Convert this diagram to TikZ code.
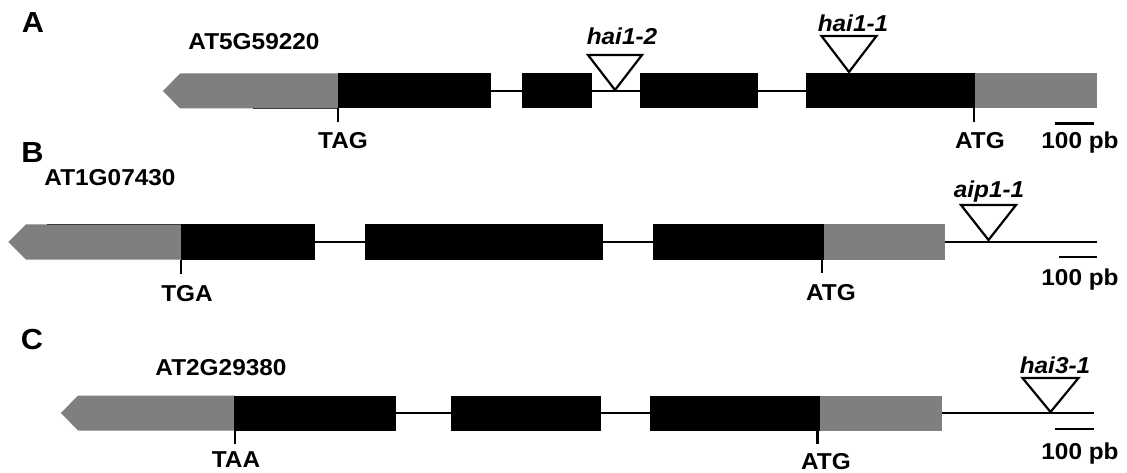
\documentclass[tikz,border=0pt]{standalone}
\usepackage{fontspec}
\setmainfont{Liberation Sans}[FakeStretch=1.06]
\definecolor{utrgray}{HTML}{7F7F7F}
\definecolor{edgegray}{HTML}{3A3A3A}
\tikzset{
  exon/.style={fill=black, draw=none, inner sep=0pt, outer sep=0pt, minimum height=35pt, anchor=west},
  utr/.style={fill=utrgray, draw=none, inner sep=0pt, outer sep=0pt, minimum height=35pt, anchor=west},
  intron/.style={draw=black, line width=2pt},
  flank/.style={draw=black, line width=2.6pt},
  codon/.style={draw=black, line width=2.2pt},
  sbar/.style={draw=black, line width=2.8pt},
  insert/.style={draw=black, fill=white, line width=2.2pt, line join=miter},
  seam/.style={draw=edgegray, line width=1.2pt},
  txt/.style={font=\fontsize{23}{26}\selectfont\bfseries, inner sep=0pt, anchor=base},
  mut/.style={font=\fontsize{23}{26}\selectfont\bfseries\itshape, inner sep=0pt, anchor=base},
  panel/.style={font=\fontsize{29}{32}\selectfont\bfseries, inner sep=0pt, anchor=base},
}
\begin{document}
\begin{tikzpicture}[x=1pt,y=-1pt]
\useasboundingbox (0,0) rectangle (1127,473);

% ---------------- Panel A ----------------
\node[panel] (pA) at (33,33) {A};
\node[txt] (gA) at (254,50) {AT5G59220};
\fill[utrgray] (163,91) -- (180,73.5) -- (338,73.5) -- (338,108.5) -- (180,108.5) -- cycle;
\draw[seam] (253,108.5) -- (337,108.5);
\node[exon, minimum width=153.3pt] (a1) at (337.7,91) {};
\node[exon, minimum width=70pt] (a2) at (522,91) {};
\node[exon, minimum width=118.5pt] (a3) at (639.5,91) {};
\node[exon, minimum width=169pt] (a4) at (805.7,91) {};
\node[utr, minimum width=122.3pt] (a5) at (974.7,91) {};
\draw[intron] (a1.east) -- (a2.west);
\draw[intron] (a2.east) -- (a3.west);
\draw[intron] (a3.east) -- (a4.west);
\draw[codon] (a1.south west) -- ++(0,14);
\draw[codon] ([xshift=-1pt]a4.south east) -- ++(0,14);
\node[txt] (tagA) at (343,148.5) {TAG};
\node[txt] (atgA) at (980,148.5) {ATG};
\node[txt] (sA) at (1080,148.5) {100 pb};
\draw[sbar] (1055,123.3) -- (1094,123.3);
\coordinate (iA2) at (615,90);
\draw[insert] (iA2) -- ++(-27,-35) -- ++(54,0) -- cycle;
\node[mut] (mA2) at (622,45) {hai1-2};
\coordinate (iA1) at (849,72);
\draw[insert] (iA1) -- ++(-27.5,-36) -- ++(55,0) -- cycle;
\node[mut] (mA1) at (853,31.5) {hai1-1};

% ---------------- Panel B ----------------
\node[panel] (pB) at (32.5,163) {B};
\node[txt] (gB) at (110,186) {AT1G07430};
\fill[utrgray] (8.3,242) -- (26,224.5) -- (181.5,224.5) -- (181.5,259.5) -- (26,259.5) -- cycle;
\draw[seam] (46.7,224.5) -- (181,224.5);
\node[exon, minimum width=134pt] (b1) at (181,242) {};
\node[exon, minimum width=238.4pt] (b2) at (365,242) {};
\node[exon, minimum width=170.3pt] (b3) at (653.2,242) {};
\node[utr, minimum width=121.8pt] (b4) at (823.5,242) {};
\coordinate (bend) at (1097,242);
\draw[intron] (b1.east) -- (b2.west);
\draw[intron] (b2.east) -- (b3.west);
\draw[flank] (b4.east) -- (bend);
\draw[codon] (b1.south west) -- ++(0,14);
\draw[codon] ([xshift=-1.5pt]b3.south east) -- ++(0,13);
\node[txt] (tgaB) at (187,301) {TGA};
\node[txt] (atgB) at (831,300) {ATG};
\node[txt] (sB) at (1080,285.5) {100 pb};
\draw[sbar] (1058.5,257) -- (1097,257);
\coordinate (iB1) at (988.5,240);
\draw[insert] (iB1) -- ++(-27.5,-35) -- ++(55,0) -- cycle;
\node[mut] (mB1) at (989,197.5) {aip1-1};

% ---------------- Panel C ----------------
\node[panel] (pC) at (32,349) {C};
\node[txt] (gC) at (221,375) {AT2G29380};
\fill[utrgray] (61,413) -- (78,395.5) -- (234.8,395.5) -- (234.8,430.5) -- (78,430.5) -- cycle;
\node[exon, minimum width=161.7pt] (c1) at (234.3,413) {};
\node[exon, minimum width=149.8pt] (c2) at (450.7,413) {};
\node[exon, minimum width=170.1pt] (c3) at (650.3,413) {};
\node[utr, minimum width=121.6pt] (c4) at (820.4,413) {};
\coordinate (cend) at (1094,413);
\draw[intron] (c1.east) -- (c2.west);
\draw[intron] (c2.east) -- (c3.west);
\draw[flank] (c4.east) -- (cend);
\draw[codon] ([xshift=1pt]c1.south west) -- ++(0,13.5);
\draw[codon] ([xshift=-3pt]c3.south east) -- ++(0,13.5);
\node[txt] (taaC) at (236,467.5) {TAA};
\node[txt] (atgC) at (826,469) {ATG};
\node[txt] (sC) at (1080,459.5) {100 pb};
\draw[sbar] (1055,429) -- (1094,429);
\coordinate (iC1) at (1050.5,412);
\draw[insert] (iC1) -- ++(-28,-34) -- ++(56,0) -- cycle;
\node[mut] (mC1) at (1055,373.5) {hai3-1};
\end{tikzpicture}
\end{document}
